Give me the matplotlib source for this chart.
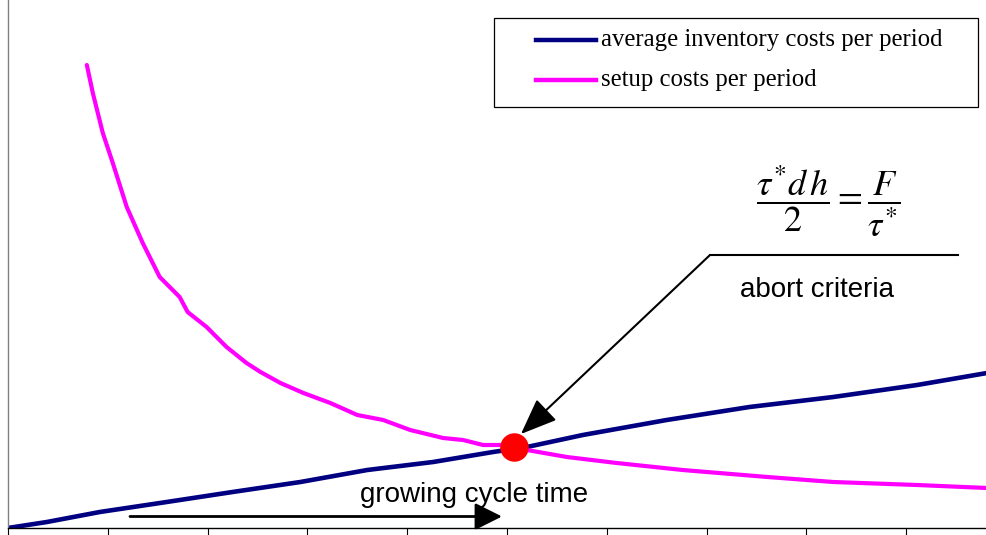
import matplotlib
matplotlib.use("Agg")
import matplotlib.pyplot as plt
from matplotlib.lines import Line2D
from matplotlib.patches import Rectangle

## Values (cycle time on x, costs on y)
setup_t = [0.79, 0.85, 0.90, 0.95, 1.05, 1.19, 1.35, 1.52, 1.72, 1.80, 1.99,
           2.19, 2.39, 2.53, 2.73, 2.96, 3.23, 3.50, 3.76, 4.03, 4.36, 4.56,
           4.76, 4.93, 5.20, 5.60, 6.10, 6.76, 7.61, 8.27, 9.11, 9.81]
setup_cost = [46.3, 43.5, 41.5, 39.5, 36.5, 32.1, 28.5, 25.1, 23.1, 21.6, 20.1,
              18.1, 16.5, 15.6, 14.5, 13.5, 12.5, 11.3, 10.8, 9.8, 9.0, 8.8,
              8.3, 8.3, 7.8, 7.1, 6.5, 5.8, 5.1, 4.6, 4.3, 4.0]

inv_t = [0.00, 0.39, 0.92, 1.59, 2.25, 2.93, 3.60, 4.26, 4.86, 5.20, 5.76,
         6.60, 7.43, 8.27, 9.11, 9.81]
inv_cost = [0.0, 0.6, 1.6, 2.6, 3.6, 4.6, 5.8, 6.6, 7.6, 8.1, 9.3,
            10.8, 12.1, 13.1, 14.3, 15.5]

optimum_t = 5.07
optimum_cost = 8.1

series_labels = ["average inventory costs per period", "setup costs per period"]
series_colors = ["#000080", "#FF00FF"]
x_ticks = [0, 1, 2, 3, 4, 5, 6, 7, 8, 9]

W, H = 987, 535
fig = plt.figure(figsize=(W / 100, H / 100), dpi=100)
ax = fig.add_axes([8 / W, 7 / H, 979 / W, 528 / H])

ax.plot(inv_t, inv_cost, color=series_colors[0], lw=3.3, solid_capstyle="round")
ax.plot(setup_t, setup_cost, color=series_colors[1], lw=3.0, solid_capstyle="round")
ax.plot([optimum_t], [optimum_cost], "o", color="#FF0000", ms=19.5, zorder=5)

ax.set_xlim(0, 9.81)
ax.set_ylim(0, 52.8)
ax.set_xticks(x_ticks)
ax.set_xticklabels([])
ax.set_yticks([])
ax.tick_params(axis="x", direction="out", length=6, width=0.8, color="black")
ax.spines["top"].set_visible(False)
ax.spines["right"].set_visible(False)
ax.spines["left"].set_color("#808080")
ax.spines["bottom"].set_color("black")
ax.spines["left"].set_linewidth(1.0)
ax.spines["bottom"].set_linewidth(1.0)

## pixel coordinates helper (origin top-left)
def px(x, y):
    return (x / W, 1 - y / H)

## legend box drawn by hand
fig.patches.append(Rectangle(px(494, 107), 484 / W, 89 / H, transform=fig.transFigure,
                             fill=False, ec="black", lw=0.9))
for i, (lab, col) in enumerate(zip(series_labels, series_colors)):
    yy = 40 + 40 * i
    x0, y0 = px(536, yy)
    x1, _ = px(596, yy)
    fig.add_artist(Line2D([x0, x1], [y0, y0], color=col, lw=3.2, transform=fig.transFigure))
    fig.text(*px(601, yy), lab, family="Liberation Serif", fontsize=17.8, va="center", ha="left")

## formula and abort criteria callout
fig.text(*px(828, 201), r"$\dfrac{\tau^{*}d\,h}{2}=\dfrac{F}{\tau^{*}}$", fontsize=26,
         ha="center", va="center", math_fontfamily="stix")
fig.add_artist(Line2D([710 / W, 958 / W], [1 - 255 / H, 1 - 255 / H], color="black",
                      lw=1.5, transform=fig.transFigure))
fig.text(*px(817, 297), "abort criteria", family="Liberation Sans", fontsize=20,
         ha="center", va="baseline")
ax.annotate("", xy=(optimum_t + 0.07, optimum_cost + 1.3), xycoords="data",
            xytext=px(710, 255), textcoords="figure fraction",
            arrowprops=dict(arrowstyle="-|>,head_length=1.5,head_width=0.6",
                            mutation_scale=15, color="black", lw=1.5,
                            shrinkA=0, shrinkB=0))

## growing cycle time arrow
fig.text(*px(474, 502), "growing cycle time", family="Liberation Sans", fontsize=20,
         ha="center", va="baseline")
ax.annotate("", xy=px(502, 516.5), xycoords="figure fraction",
            xytext=px(130, 516.5), textcoords="figure fraction",
            arrowprops=dict(arrowstyle="-|>,head_length=1.1,head_width=0.55",
                            mutation_scale=15, color="black", lw=2.0,
                            shrinkA=0, shrinkB=0))

fig.savefig("out.png", dpi=100)
